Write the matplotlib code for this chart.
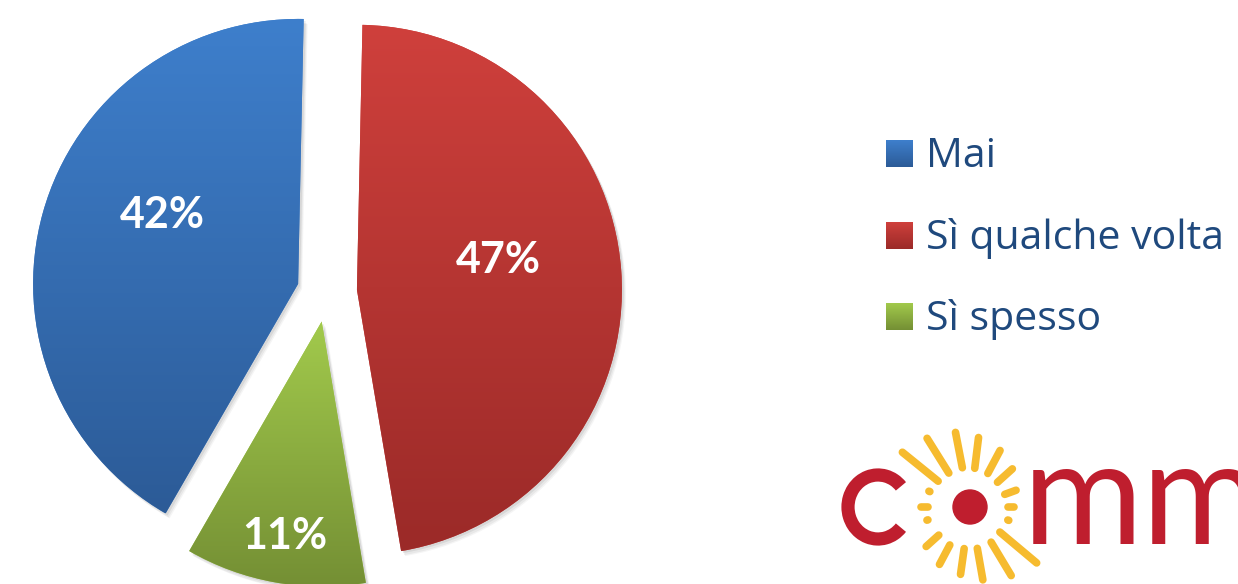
import numpy as np
import matplotlib
matplotlib.use("Agg")
import matplotlib.pyplot as plt
from matplotlib.patches import Arc, Circle
from matplotlib.colors import to_rgb

# Survey answers
categories = ["Mai", "Sì qualche volta", "Sì spesso"]
values = [42, 47, 11]

# Gradient fill colours per slice (top -> bottom)
top_colors = ["#3E7FCC", "#CF403C", "#A2CA4C"]
bottom_colors = ["#2C5B97", "#9B2A28", "#748F34"]

W, H = 1238, 584
fig = plt.figure(figsize=(W / 100, H / 100), dpi=100)
ax = fig.add_axes([0, 0, 1, 1])

center = (327, H - 292)
radius = 265
gap = 30


def vgrad(c_top, c_bot, n=256):
    a = np.array(to_rgb(c_top))
    b = np.array(to_rgb(c_bot))
    t = np.linspace(0, 1, n)[:, None]
    return (a * (1 - t) + b * t)[:, None, :]


# soft drop shadow under the slices
for dx, dy, al in [(4, -5, 0.04), (3, -4, 0.05), (2, -2, 0.07)]:
    ax.pie(values, explode=[gap] * 3, radius=radius,
           center=(center[0] + dx, center[1] + dy),
           startangle=240, counterclock=False, colors=["#000000"] * 3,
           wedgeprops=dict(linewidth=0, alpha=al))

wedges, texts, autotexts = ax.pie(
    values, explode=[gap] * 3, radius=radius, center=center,
    startangle=240, counterclock=False, colors=top_colors,
    autopct=lambda p: f"{p:.0f}%", pctdistance=0.55,
    wedgeprops=dict(linewidth=0),
    textprops=dict(color="white", fontsize=31, fontweight="bold", family="Lato"))

for w, ct, cb in zip(wedges, top_colors, bottom_colors):
    ext = w.get_path().get_extents()
    im = ax.imshow(vgrad(ct, cb), extent=(ext.x0, ext.x1, ext.y0, ext.y1),
                   origin="upper", aspect="auto", interpolation="bilinear",
                   zorder=w.get_zorder() + 0.1)
    im.set_clip_path(w)

# percentage label anchors
label_pos = [(162, 215), (498, 260), (285, 536)]
for t, (x, y) in zip(autotexts, label_pos):
    t.set_position((x, H - y))
    t.set_ha("center")
    t.set_va("center")
    t.set_zorder(10)

# legend
row_baselines = [167, 249, 330]
for cat, ct, cb, yb in zip(categories, top_colors, bottom_colors, row_baselines):
    ax.imshow(vgrad(ct, cb), extent=(886, 913, H - yb, H - yb + 27),
              origin="upper", aspect="auto", interpolation="bilinear", zorder=3)
    ax.text(926, H - yb, cat, fontsize=29.5, family="Open Sans", color="#1F497D",
            ha="left", va="baseline", zorder=4)

# logo
logo_red = "#BF1E2E"
logo_yellow = "#F6BB2F"
sun = (970, H - 507)
ax.add_patch(Arc((878, H - 507), width=60, height=64, theta1=42, theta2=318,
                 lw=9.5, color=logo_red, zorder=4))
ax.add_patch(Circle(sun, 17, color=logo_red, zorder=4))
rays = [
    (141, 41, 87), (122, 40, 81), (101, 40, 76), (83, 39, 70), (62, 38, 64),
    (42, 37, 57), (20, 37, 49), (0, 38, 44), (-19, 40, 41), (-40, 39, 87),
    (-59, 41, 80), (-80, 42, 74), (-98, 42, 68), (-118, 43, 65),
    (-138, 42, 59), (-163, 44, 45), (180, 42, 49), (159, 43, 44),
]
for ang, r0, r1 in rays:
    a = np.deg2rad(ang)
    ax.plot([sun[0] + r0 * np.cos(a), sun[0] + r1 * np.cos(a)],
            [sun[1] + r0 * np.sin(a), sun[1] + r1 * np.sin(a)],
            color=logo_yellow, lw=5.5, solid_capstyle="round", zorder=4)
ax.text(1023, H - 544, "mm", fontsize=105, family="Lato", color=logo_red,
        ha="left", va="baseline", zorder=4)

ax.set_xlim(0, W)
ax.set_ylim(0, H)
ax.set_aspect("auto")
ax.axis("off")

fig.savefig("out.png", dpi=100)
